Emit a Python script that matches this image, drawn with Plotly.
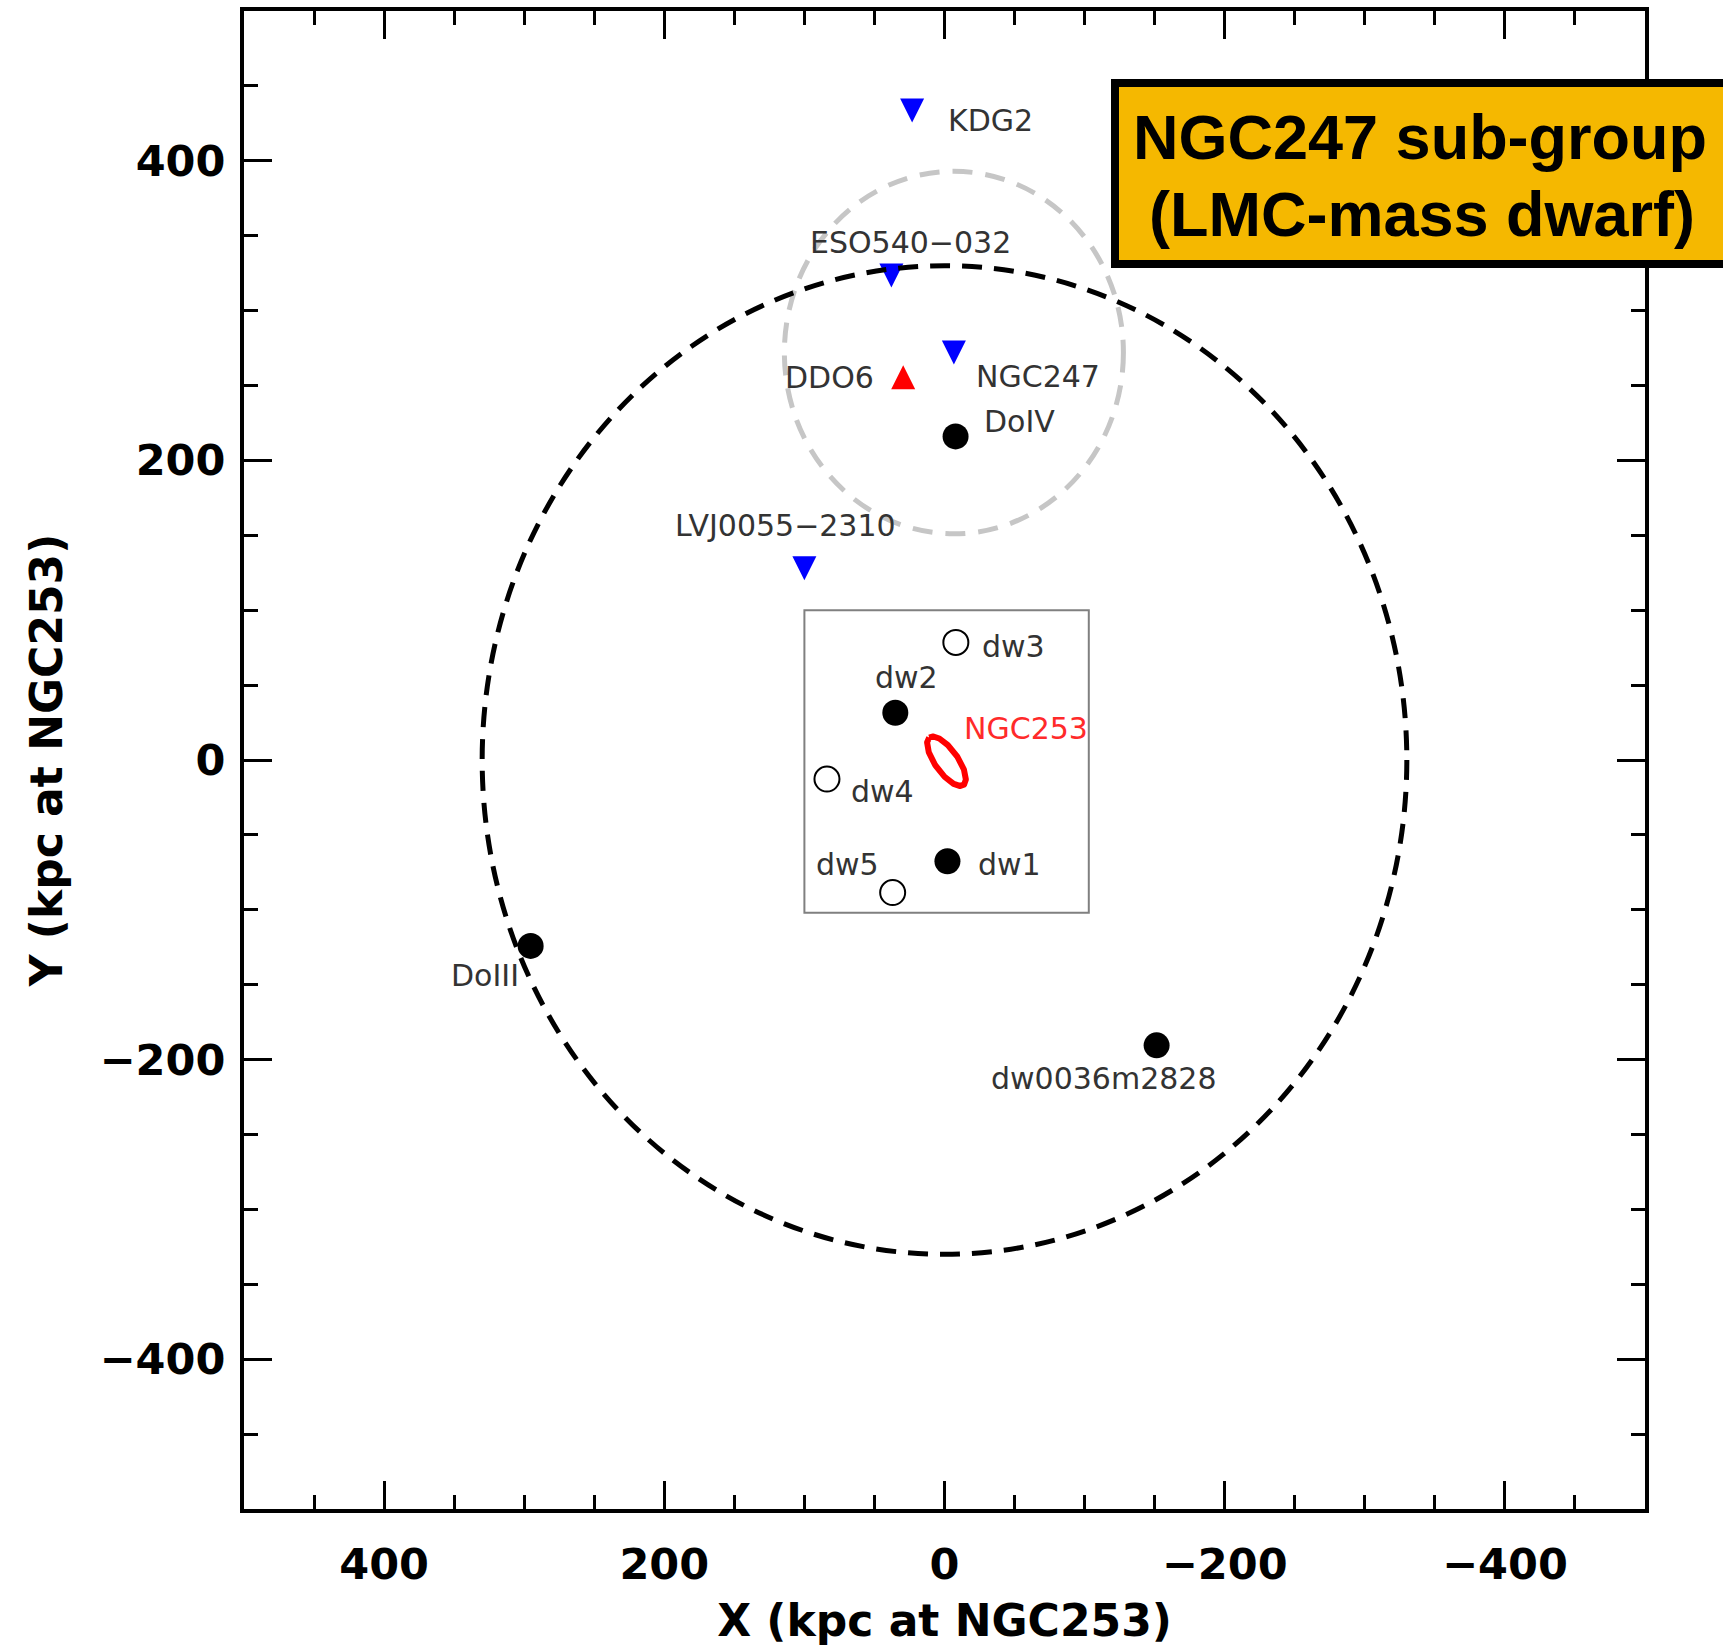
import numpy as np
import plotly.graph_objects as go

# Satellites around NGC 253, projected positions in kpc at the distance of NGC 253
blue_names = ["KDG2", "ESO540−032", "NGC247", "LVJ0055−2310"]
blue_x = [23.1, 37.9, -6.7, 100.0]
blue_y = [433.5, 323.5, 272.0, 128.0]

red_names = ["DDO6"]
red_x = [29.5]
red_y = [255.5]

filled_names = ["DoIV", "dw2", "dw1", "DoIII", "dw0036m2828"]
filled_x = [-7.9, 35.1, -2.1, 295.4, -151.4]
filled_y = [216.0, 31.5, -67.6, -124.1, -190.5]

open_names = ["dw3", "dw4", "dw5"]
open_x = [-8.1, 83.9, 37.0]
open_y = [78.5, -12.7, -88.5]

# NGC 253 disc outline: centre, semi-axes (kpc) and orientation (deg from +X)
host_name = "NGC253"
host_x, host_y = -1.4, -0.8
host_a, host_b, host_pa = 20.0, 8.0, 52.0

virial_radius = 330.0        # NGC 253 halo
subgroup_radius = 121.0      # NGC 247 sub-group
survey_x = [100.0, -103.0]   # inner survey field
survey_y = [-102.0, 100.0]

# label placement: name -> (xanchor, xshift px, yshift px)
label_pos = {
    "KDG2": ("left", 34, -9.5),
    "ESO540−032": ("center", 19, 33),
    "NGC247": ("left", 20, -24),
    "LVJ0055−2310": ("center", -19, 42.5),
    "DDO6": ("right", -27, 0),
    "DoIV": ("left", 26, 15),
    "dw2": ("center", 11, 35),
    "dw1": ("left", 28.5, -3),
    "DoIII": ("right", -10, -30),
    "dw0036m2828": ("center", -53, -33),
    "dw3": ("left", 24, -4),
    "dw4": ("left", 22, -12),
    "dw5": ("right", -12, 28),
    "NGC253": ("left", 16, 32.5),
}

LABEL_FONT = dict(family="DejaVu Sans", size=30, color="#333333")
TRI_SIZE = 24

fig = go.Figure()

# triangles centred on their positions (standoff shifts the arrow glyph by half its height)
fig.add_trace(go.Scatter(
    x=blue_x, y=blue_y, mode="markers", name="blue",
    marker=dict(symbol="arrow-down", size=TRI_SIZE, standoff=TRI_SIZE / 2,
                color="#0000ff", line=dict(width=0)),
))
fig.add_trace(go.Scatter(
    x=red_x, y=red_y, mode="markers", name="red",
    marker=dict(symbol="arrow-down", size=TRI_SIZE, standoff=TRI_SIZE / 2,
                angle=180, color="#ff0000", line=dict(width=0)),
))
fig.add_trace(go.Scatter(
    x=filled_x, y=filled_y, mode="markers", name="filled",
    marker=dict(symbol="circle", size=26, color="black"),
))
fig.add_trace(go.Scatter(
    x=open_x, y=open_y, mode="markers", name="open",
    marker=dict(symbol="circle-open", size=25, color="black",
                line=dict(color="black", width=2)),
))

# tilted ellipse for the NGC 253 disc
t = np.linspace(0, 2 * np.pi, 241)
pa = np.radians(host_pa)
ux, uy = np.cos(pa), np.sin(pa)
vx, vy = -np.sin(pa), np.cos(pa)
ex = host_x + host_a * np.cos(t) * ux + host_b * np.sin(t) * vx
ey = host_y + host_a * np.cos(t) * uy + host_b * np.sin(t) * vy
fig.add_trace(go.Scatter(x=ex, y=ey, mode="lines", name=host_name,
                         line=dict(color="#ff0000", width=6)))

# halo circle, sub-group circle and survey field
fig.add_shape(type="circle", xref="x", yref="y",
              x0=-virial_radius, x1=virial_radius,
              y0=-virial_radius, y1=virial_radius,
              line=dict(color="black", width=5, dash="20px,12px"), layer="above")
ngc247_x, ngc247_y = blue_x[2], blue_y[2]
fig.add_shape(type="circle", xref="x", yref="y",
              x0=ngc247_x - subgroup_radius, x1=ngc247_x + subgroup_radius,
              y0=ngc247_y - subgroup_radius, y1=ngc247_y + subgroup_radius,
              line=dict(color="#c6c6c6", width=5, dash="20px,13px"), layer="below")
fig.add_shape(type="rect", xref="x", yref="y",
              x0=survey_x[0], x1=survey_x[1], y0=survey_y[0], y1=survey_y[1],
              line=dict(color="#808080", width=2), layer="below")

# galaxy labels
def add_labels(names, xs, ys, color=None):
    for n, x, y in zip(names, xs, ys):
        anchor, dx, dy = label_pos[n]
        font = dict(LABEL_FONT)
        if color:
            font["color"] = color
        fig.add_annotation(x=x, y=y, xref="x", yref="y", text=n, showarrow=False,
                           xanchor=anchor, yanchor="middle", xshift=dx, yshift=dy,
                           font=font)

add_labels(blue_names, blue_x, blue_y)
add_labels(red_names, red_x, red_y)
add_labels(filled_names, filled_x, filled_y)
add_labels(open_names, open_x, open_y)
add_labels([host_name], [host_x], [host_y], color="#ff2a2a")

# sub-group title box
fig.add_shape(type="rect", xref="paper", yref="paper",
              x0=0.6217, x1=1.12, y0=0.8311, y1=0.9519,
              fillcolor="#f5b800", line=dict(color="black", width=8), layer="above")
title_font = dict(family="Liberation Sans, Arial", size=63, color="black")
fig.add_annotation(x=0.8394, y=0.9162, xref="paper", yref="paper",
                   text="<b>NGC247 sub-group</b>", showarrow=False,
                   xanchor="center", yanchor="middle", font=title_font)
fig.add_annotation(x=0.8408, y=0.8645, xref="paper", yref="paper",
                   text="<b>(LMC-mass dwarf)</b>", showarrow=False,
                   xanchor="center", yanchor="middle", font=title_font)

axis_font = dict(family="DejaVu Sans", size=44, color="black", weight="bold")
axis_common = dict(
    showgrid=False, zeroline=False, automargin=False,
    showline=True, linewidth=4, linecolor="black", mirror="ticks",
    ticks="inside", ticklen=28, tickwidth=3, tickcolor="black",
    tickmode="linear", tick0=0, dtick=200,
    minor=dict(tick0=0, dtick=50, ticks="inside", ticklen=14,
               tickwidth=3, tickcolor="black"),
    tickfont=dict(family="DejaVu Sans", size=43, color="black", weight="bold"),
)

fig.update_layout(
    width=1723, height=1649,
    margin=dict(l=244, r=78, t=11, b=140),
    paper_bgcolor="white", plot_bgcolor="white",
    showlegend=False,
    xaxis=dict(range=[500, -500], ticklabelstandoff=14,
               title=dict(text="X (kpc at NGC253)", standoff=19, font=axis_font),
               **axis_common),
    yaxis=dict(range=[-500, 500], ticklabelstandoff=6,
               title=dict(text="Y (kpc at NGC253)", standoff=24, font=axis_font),
               **axis_common),
)

fig.write_html("out.html")
